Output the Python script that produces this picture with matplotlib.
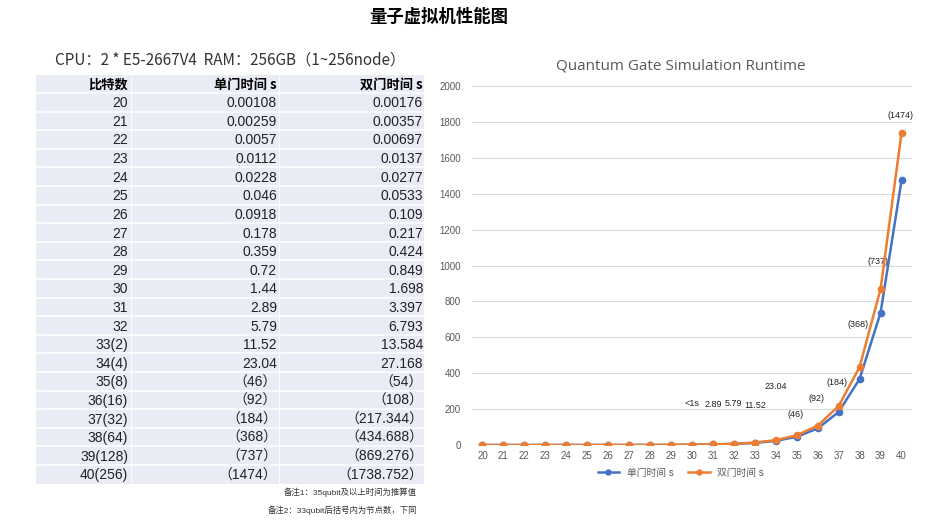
import matplotlib.pyplot as plt
from matplotlib.patches import Rectangle

plt.rcParams['font.family'] = ['Liberation Sans', 'Noto Sans CJK SC', 'DejaVu Sans']

# data
qubits = list(range(20, 41))
qubit_labels = ['20', '21', '22', '23', '24', '25', '26', '27', '28', '29', '30',
                '31', '32', '33(2)', '34(4)', '35(8)', '36(16)', '37(32)',
                '38(64)', '39(128)', '40(256)']
single_gate = [0.00108, 0.00259, 0.0057, 0.0112, 0.0228, 0.046, 0.0918, 0.178,
               0.359, 0.72, 1.44, 2.89, 5.79, 11.52, 23.04, 46, 92, 184, 368,
               737, 1474]
double_gate = [0.00176, 0.00357, 0.00697, 0.0137, 0.0277, 0.0533, 0.109, 0.217,
               0.424, 0.849, 1.698, 3.397, 6.793, 13.584, 27.168, 54, 108,
               217.344, 434.688, 869.276, 1738.752]
single_text = ['0.00108', '0.00259', '0.0057', '0.0112', '0.0228', '0.046',
               '0.0918', '0.178', '0.359', '0.72', '1.44', '2.89', '5.79',
               '11.52', '23.04', '（46）', '（92）', '（184）', '（368）',
               '（737）', '（1474）']
double_text = ['0.00176', '0.00357', '0.00697', '0.0137', '0.0277', '0.0533',
               '0.109', '0.217', '0.424', '0.849', '1.698', '3.397', '6.793',
               '13.584', '27.168', '（54）', '（108）', '（217.344）',
               '（434.688）', '（869.276）', '（1738.752）']
headers = ['比特数', '单门时间 s', '双门时间 s']
point_labels = ['<1s', '2.89', '5.79', '11.52', '23.04', '(46)', '(92)',
                '(184)', '(368)', '(737)', '(1474)']
label_start = 30
# label offsets in pixels from the orange point (placed by hand in the original)
label_offsets = [(0, 41), (0, 40), (0, 40), (0, 37), (0, 54), (-1, 21),
                 (-1, 27), (-2, 23), (-2, 42), (-3, 27), (-1, 17)]

W, H = 936, 525
fig = plt.figure(figsize=(W / 100, H / 100), dpi=100)

# page layer in pixel coordinates for title + table
bg = fig.add_axes([0, 0, 1, 1])
bg.set_xlim(0, W)
bg.set_ylim(H, 0)
bg.axis('off')

bg.text(439, 17, '量子虚拟机性能图', ha='center', va='center', fontsize=12.5,
        fontweight='bold', family=['Noto Sans CJK SC', 'DejaVu Sans'])
bg.text(55, 60, 'CPU：2 * E5-2667V4  RAM：256GB（1~256node）', ha='left',
        va='center', fontsize=11, color='#333333',
        family=['Noto Sans CJK SC', 'DejaVu Sans'])

# table
t_left, t_right, t_top = 36, 424, 75
head_h, row_h = 18, 18.6
t_bottom = t_top + head_h + row_h * len(qubits)
bg.add_patch(Rectangle((t_left, t_top), t_right - t_left, t_bottom - t_top,
                       facecolor='#E9EBF5', edgecolor='none'))
for i in range(len(qubits)):
    y = t_top + head_h + row_h * i
    bg.plot([t_left, t_right], [y, y], color='white', lw=1.1)
for xv in (131, 279):
    bg.plot([xv, xv], [t_top, t_bottom], color='white', lw=0.6)

col_right = [128, 277, 423]
for c, h in enumerate(headers):
    bg.text(col_right[c], t_top + head_h / 2 + 1, h, ha='right', va='center',
            fontsize=9.5, fontweight='bold',
            family=['Noto Sans CJK SC', 'DejaVu Sans'])
for i, (q, s, d) in enumerate(zip(qubit_labels, single_text, double_text)):
    y = t_top + head_h + row_h * i + row_h / 2 + 1
    for c, txt in enumerate((q, s, d)):
        bg.text(col_right[c], y, txt, ha='right', va='center', fontsize=10,
                color='#222222')

bg.text(417, 492, '备注1：35qubit及以上时间为推算值', ha='right', va='center',
        fontsize=6, color='#333333')
bg.text(417, 510, '备注2：33qubit后括号内为节点数，下同', ha='right', va='center',
        fontsize=6, color='#333333')

# chart
ax = fig.add_axes([472 / W, (H - 445) / H, 440 / W, 359 / H])
blue, orange = '#4472C4', '#ED7D31'
ax.plot(qubits, single_gate, color=blue, lw=1.8, marker='o', ms=4.5,
        label='单门时间 s', zorder=3)
ax.plot(qubits, double_gate, color=orange, lw=1.8, marker='o', ms=4.5,
        label='双门时间 s', zorder=4)
ax.set_xlim(19.5, 40.5)
ax.set_ylim(0, 2000)
ax.set_xticks(qubits)
ax.set_yticks(range(0, 2001, 200))
ax.grid(axis='y', color='#D9D9D9', lw=0.8)
ax.set_axisbelow(True)
for sp in ax.spines.values():
    sp.set_visible(False)
ax.tick_params(length=0, labelsize=7, labelcolor='#595959', pad=4)
ax.tick_params(axis='y', pad=8)

for k, lab in enumerate(point_labels):
    idx = qubits.index(label_start + k)
    ax.annotate(lab, (qubits[idx], double_gate[idx]),
                xytext=label_offsets[k], textcoords='offset pixels',
                ha='center', va='center', fontsize=6.5, color='#222222')

ax.set_title('Quantum Gate Simulation Runtime', fontsize=11, color='#595959',
             family=['Open Sans', 'DejaVu Sans'], pad=12,
             x=(681 - 472) / 440)
ax.legend(loc='center', bbox_to_anchor=((681 - 472) / 440, -0.077), ncol=2,
          frameon=False, fontsize=7, labelcolor='#595959', handlelength=2.2,
          columnspacing=1.5, markerscale=0.8)

fig.savefig('out.png', dpi=100)
